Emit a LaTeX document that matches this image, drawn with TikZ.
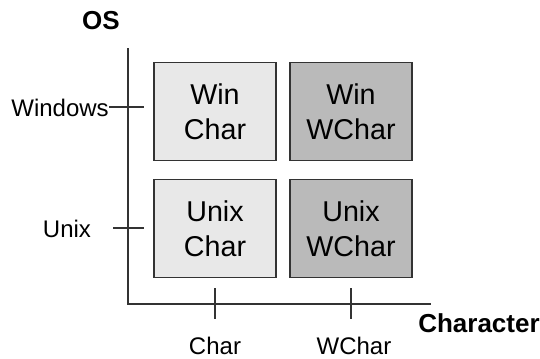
\documentclass[tikz,border=0pt]{standalone}
\usepackage{fontspec}
\setmainfont{Liberation Sans}
\usetikzlibrary{positioning}

\definecolor{lightcell}{HTML}{E8E8E8}
\definecolor{darkcell}{HTML}{BABABA}
\definecolor{edgegray}{HTML}{333333}

\tikzset{
    cell/.style={draw=edgegray, line width=0.9pt, inner sep=0pt, align=center,
        minimum width=91.5pt, minimum height=74pt,
        font=\fontsize{21.5}{26}\selectfont},
    axislabel/.style={inner sep=0pt, font=\fontsize{18}{21}\selectfont},
    axistitle/.style={inner sep=0pt, font=\fontsize{19.5}{22}\selectfont\bfseries},
}

\begin{document}
\begin{tikzpicture}[x=0.75pt, y=-0.75pt]
        \useasboundingbox (0,0) rectangle (540,358);
        % the four combinations
        \node[cell, fill=lightcell] (winchar) at (215, 111.5) {Win\\Char};
        \node[cell, fill=darkcell] (winwchar) at (351, 111.5) {Win\\WChar};
        \node[cell, fill=lightcell] (unixchar) at (215, 228.5) {Unix\\Char};
        \node[cell, fill=darkcell] (unixwchar) at (351, 228.5) {Unix\\WChar};
        % axes
        \coordinate (origin) at (128, 304);
        \coordinate (ytop) at (128, 48);
        \coordinate (xend) at (431, 304);
        \draw[edgegray, line width=0.9pt] (ytop) -- (origin) -- (xend);
        \node[axistitle] (os) at (101, 21) {OS};
        \node[axistitle] (character) at (479, 323) {Character};
        % OS ticks
        \node[axislabel, anchor=east] (windows) at (109, 108) {Windows};
        \node[axislabel] (unix) at (67, 229) {Unix};
        \coordinate (wintick) at (144, 107);
        \coordinate (unixstart) at (113, 228);
        \coordinate (unixtick) at (144, 228);
        \draw[edgegray, line width=0.9pt] (windows.east |- wintick) -- (wintick);
        \draw[edgegray, line width=0.9pt] (unixstart) -- (unixtick);
        % character ticks
        \node[axislabel] (char) at (215, 346) {Char};
        \node[axislabel] (wchar) at (354, 346) {WChar};
        \coordinate (chartop) at (215, 288);
        \coordinate (charbot) at (215, 319);
        \coordinate (wchartop) at (351, 288);
        \coordinate (wcharbot) at (351, 319);
        \draw[edgegray, line width=0.9pt] (chartop) -- (charbot);
        \draw[edgegray, line width=0.9pt] (wchartop) -- (wcharbot);
    \end{tikzpicture}
\end{document}
